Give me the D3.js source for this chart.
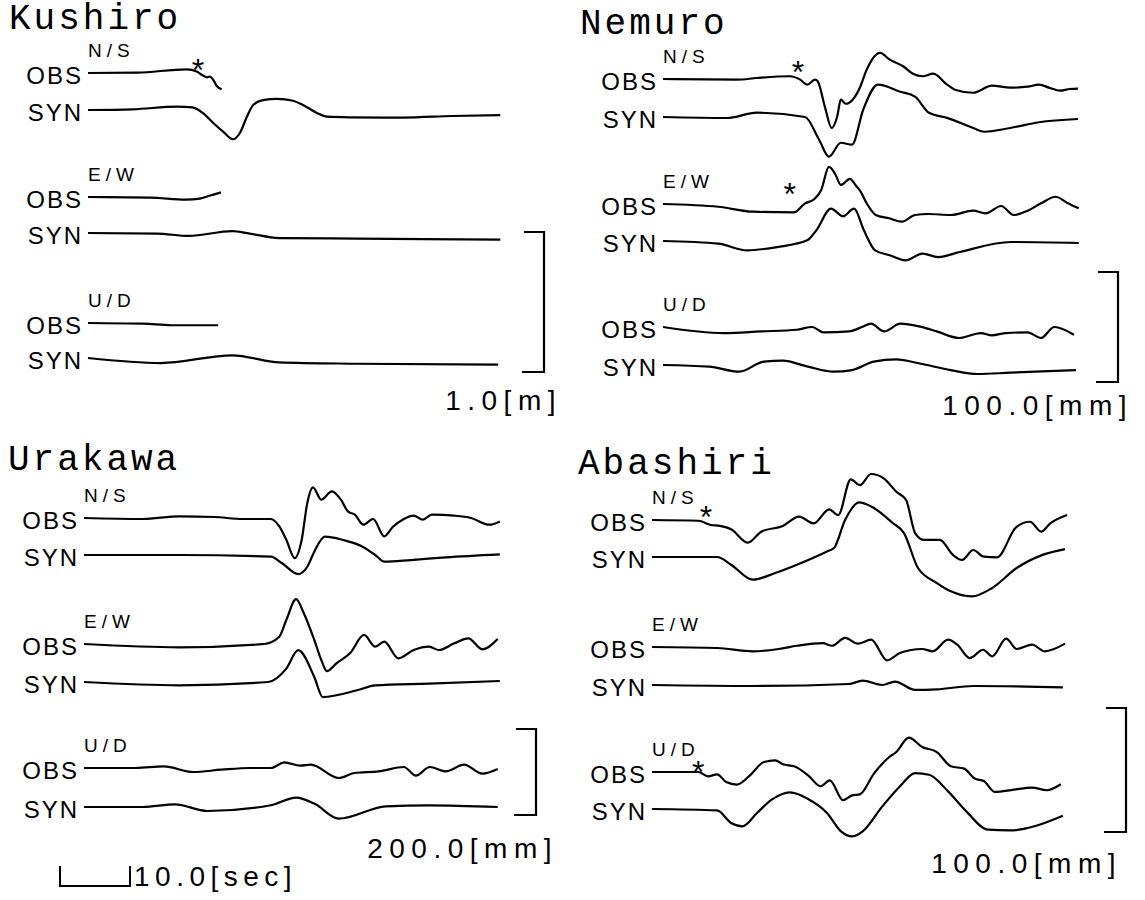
<!DOCTYPE html>
<html>
<head>
<meta charset="utf-8">
<script src="https://cdn.jsdelivr.net/npm/d3@7"></script>
<style>
body { margin: 0; background: #fff; }
</style>
</head>
<body>
<script>
// stations, components, scale bars
var stations    = ["Kushiro", "Nemuro", "Urakawa", "Abashiri"];
var components  = ["N/S", "E/W", "U/D"];
var traceNames  = ["OBS", "SYN"];
var scaleValues = [1.0, 100.0, 200.0, 100.0];
var scaleUnits  = ["m", "mm", "mm", "mm"];
var timeBarSec  = 10.0;

// waveforms: [time (s), amplitude (m for Kushiro, mm otherwise)]
var kushiroNsObs = [[0,0],[7,0.003],[14.1,0.026],[15.6,0.009],[16.3,-0.014],[17,-0.031],[17.4,-0.026],[17.9,-0.05],[18.4,-0.093],[19.1,-0.116]];
var kushiroNsSyn = [[0,0],[6.4,0.005],[12.7,0.024],[14.9,0.019],[16.4,-0.021],[17.9,-0.093],[19.3,-0.155],[20.7,-0.209],[21.7,-0.164],[22.7,-0.048],[23.6,0.036],[25,0.071],[27,0.079],[29.3,0.066],[30.7,0.036],[32.7,-0.021],[34.1,-0.048],[37.3,-0.052],[45,-0.054],[52,-0.043],[58.9,-0.036]];
var kushiroEwObs = [[0,0],[8.9,-0.004],[14,-0.019],[16,-0.011],[17.7,0.014],[19,0.033]];
var kushiroEwSyn = [[0,0],[9.9,-0.004],[14.4,-0.021],[20.6,0.014],[23.1,-0.004],[27.3,-0.036],[38.4,-0.04],[58.9,-0.047]];
var kushiroUdObs = [[0,0],[7.9,-0.005],[11.9,-0.016],[18.6,-0.016]];
var kushiroUdSyn = [[0,0],[10.4,-0.036],[20.6,0.019],[27.3,-0.031],[38.4,-0.041],[58.6,-0.048]];

var nemuroNsObs = [[0,0],[10.6,-0.6],[13.4,0.9],[18.1,2.5],[19.6,-0.6],[20.6,-5.2],[21.7,-0.6],[22.1,-2.1],[23.1,-24.6],[24.1,-44.6],[24.9,-33.7],[25.4,-18.8],[26.1,-22.5],[27.1,-18.8],[28.1,-8.2],[29.1,8.5],[31,23.7],[32.4,17.6],[34.3,11.6],[35.7,4.8],[37.1,2.5],[38.6,4.8],[40.6,-5.2],[41.7,-9.7],[44.3,-12.5],[47,-6.1],[49.6,-7.9],[52.1,-7],[53.7,-5.2],[55.3,-8.2],[56.7,-10.6],[58.1,-9.1],[59.3,-8.8]];
var nemuroNsSyn = [[0,0],[9.1,-0.9],[13.4,3.9],[20.3,0],[22.3,-20.7],[23.7,-36.1],[25.4,-23.4],[27,-25.2],[28.6,6.6],[30.7,29.4],[33.9,23],[36,18.5],[38,3.9],[40.7,-1],[44.3,-10],[45.9,-13.4],[49.6,-10],[53.7,-4.8],[59.3,-1.8]];
var nemuroEwObs = [[0,0],[7.9,-2.5],[12.9,-7],[18.7,-7.6],[20.3,0.6],[21.6,4.3],[22.6,12.7],[23.7,33.7],[24.6,27.3],[25.4,17.3],[26.7,22.8],[27.6,16.4],[28.1,12.7],[29.1,0.6],[30.4,-10],[32.3,-13],[34.1,-16.1],[36,-10],[37.9,-9.1],[41.1,-10],[44.3,-6.1],[46.1,-8.5],[48.3,-1.8],[50.1,-10],[52.1,-6.1],[54,0.6],[56.1,6.6],[57.7,1.2],[59.4,-3.9]];
var nemuroEwSyn = [[0,0],[7.9,-2.4],[12,-8.5],[16.3,-5.5],[20.6,0.6],[21.9,9.7],[24,29.5],[25.7,22.5],[27.3,29.5],[28.7,9.7],[30.3,-8.5],[32.4,-13],[34.6,-17.6],[37.1,-11.5],[39.3,-14.6],[42.4,-10],[49.7,-0.9],[59.4,-1.8]];
var nemuroUdObs = [[0,0],[8.7,-5.5],[14,-4],[19.1,-2.5],[21.3,0],[22.9,-4.9],[26.6,-4],[28.6,0.5],[29.7,3],[31.6,-4],[33.9,3],[36.6,0.5],[39.1,-4],[42.3,-10],[45.4,-5.5],[47,-7.6],[49,-5.5],[52.1,-4.9],[54,-10],[55.9,0],[58.7,-7]];
var nemuroUdSyn = [[0,0],[6.6,-1.5],[10.9,-6.1],[14.4,3],[17.1,3.9],[20.7,-1.5],[24.4,-6.1],[27,-4.6],[30.1,3],[33.3,5.2],[37,0.9],[41.1,-4.6],[44.9,-8.2],[49.6,-7],[59,-4.6]];

var urakawaNsObs = [[0,0],[8.4,-2.3],[13.6,3.7],[18.6,2.3],[22.7,-2.3],[26.7,-2.3],[27.9,-19.6],[28.9,-50.6],[30.1,-93.2],[31.1,-50.6],[31.9,35],[32.7,71.3],[33.9,42.6],[35.4,62],[36.7,42.6],[37.7,15.4],[38.7,7.7],[39.9,-15.6],[41.3,-2.3],[42.9,-42.9],[44.1,-21],[45.7,-2.3],[47.1,5.4],[48.4,-4],[49.7,7.7],[52.9,5.4],[55.3,0],[57.9,-15.6],[59.4,-7.9]];
var urakawaNsSyn = [[0,0],[13.6,0],[26.7,-4],[28.3,-19.3],[30.6,-44.3],[31.9,-27.3],[32.9,7.7],[34.4,42.6],[37,35],[39.6,21],[41.6,0],[42.9,-15.6],[46.7,-11.7],[51.7,-5.4],[59.4,1.6]];
var urakawaEwObs = [[0,0],[13.6,-7.7],[25.7,0],[27.9,17],[28.9,55.9],[30.3,104.2],[31.4,71.5],[32.9,9.3],[33.9,-37.3],[34.7,-62.9],[36.1,-44.3],[38,-21.7],[40,21],[41.6,-6.3],[42.9,5.4],[44.9,-33.3],[47.1,-14],[49.3,-6.3],[50.7,-14],[52.9,1.6],[54.9,13.3],[56.9,-12.3],[59.1,11.7]];
var urakawaEwSyn = [[0,0],[13.6,-7.7],[26.3,0],[28.9,31.2],[30.6,73.9],[32.9,11.7],[34.1,-35],[39,-19.3],[41.6,-7.7],[49.3,-3.7],[59.4,2.3]];
var urakawaUdObs = [[0,0],[7.4,0],[11.4,3.7],[15.6,-9.3],[19.6,-4],[23.7,0],[26.7,0],[28.6,13],[30.9,5.4],[32.4,7.7],[36.4,-23.3],[38.6,-11.7],[42.1,-7.9],[45.7,2.3],[47.4,-17.9],[49.4,2.3],[51.7,-7.9],[54.3,7.7],[56.9,-13.3],[59.1,-2.3]];
var urakawaUdSyn = [[0,0],[8.4,0],[13,6.3],[17.6,-9.3],[26.7,4],[30.3,21.9],[32.9,7.9],[36.4,-27],[43.1,1.6],[49.3,4],[59.1,0]];

var abashiriNsObs = [[0,0],[6.6,-0.6],[8.4,-4],[9.7,-4.8],[11.3,-7.5],[13.7,-18.3],[15.6,-9.4],[18.7,-4.8],[21,2.7],[23.1,-2.7],[25.3,8.6],[26.6,4],[28.4,32.8],[29.7,28.2],[31.3,37.1],[33.1,33.6],[34.9,22.8],[36.3,16.1],[37.6,-10.7],[38.9,-16.1],[41.1,-16.1],[43,-28.2],[44.3,-32.2],[45.9,-24.2],[47.4,-29.6],[49.3,-30.1],[52,-5.9],[54,-1.4],[55.6,-9.4],[56.9,-2.7],[59.3,4]];
var abashiriNsSyn = [[0,0],[9.3,0],[11.3,-6.2],[14.4,-18.3],[17.6,-12.9],[20.7,-6.2],[25,4.5],[26,7.3],[27.6,30.1],[29.6,44],[31.3,40.8],[34.4,27.4],[36,19.3],[38,-8.9],[40.7,-21],[42.7,-27.7],[45.7,-31.8],[48.6,-25],[52.1,-8.9],[55.9,1.9],[59,6.4]];
var abashiriEwObs = [[0,0],[9.3,-0.8],[14.4,-3.5],[18.1,-1.6],[20.7,1],[24.4,3.2],[25.7,1],[27.6,7.3],[29.4,2.7],[31.3,5.9],[33.6,-10.8],[35.4,-4.8],[38.6,-1.6],[40.1,-3.5],[42.3,5.9],[43.6,1.9],[45.4,-8.9],[47.3,-2.2],[48.6,-7.6],[50.6,6.7],[52.1,-1.6],[54.3,1.9],[56.1,-3.5],[59,2.7]];
var abashiriEwSyn = [[0,0],[14.4,-0.8],[28.1,0.8],[30.1,3.5],[32.9,0],[34.7,2.7],[37.6,-4],[40.7,-3.5],[45.9,-0.8],[58.7,-1.9]];
var abashiriUdObs = [[0,0],[6.6,0],[8,-3.5],[9.3,-1.9],[10.6,-8.1],[12.1,-10.2],[14,-2.7],[16,8.1],[17.6,9.4],[18.7,6.2],[20.3,4.6],[22.3,-2.7],[24.1,-11.5],[25.4,-6.7],[27.3,-22.8],[28.6,-18.8],[29.7,-18],[31.7,-1.3],[33.9,12.1],[34.9,16.1],[36.7,27.7],[38.6,20.2],[40.7,16.1],[42.7,4.6],[44.6,2.7],[46.1,-5.3],[47.4,-7.3],[49,-16.1],[51.7,-14.2],[54.3,-12.6],[56.4,-14.7],[58.4,-9.9]];
var abashiriUdSyn = [[0,0],[9.3,-1.1],[11.3,-11.3],[12.9,-14],[15,-3.2],[17.1,7.5],[19.7,13.4],[22.3,8.1],[25,-3.2],[27,-18.1],[28.6,-22.1],[30.1,-18.1],[32.9,2.1],[35.4,18.2],[37.6,29],[39.6,27.6],[42.3,14.2],[44.9,-1.9],[48,-16.7],[51.1,-17.2],[58.7,-5.4]];

// onset marks (*) on the observed traces: [time, amplitude] or null, per component
var kushiroPicks  = [[15.7, 0.069], null, null];
var nemuroPicks   = [[19.3, 13], [18.1, 15.5], null];
var urakawaPicks  = [null, null, null];
var abashiriPicks = [[7.7, 8.1], null, [6.6, 5.4]];

var traces = {
    Kushiro:  [[kushiroNsObs, kushiroNsSyn], [kushiroEwObs, kushiroEwSyn], [kushiroUdObs, kushiroUdSyn]],
    Nemuro:   [[nemuroNsObs, nemuroNsSyn], [nemuroEwObs, nemuroEwSyn], [nemuroUdObs, nemuroUdSyn]],
    Urakawa:  [[urakawaNsObs, urakawaNsSyn], [urakawaEwObs, urakawaEwSyn], [urakawaUdObs, urakawaUdSyn]],
    Abashiri: [[abashiriNsObs, abashiriNsSyn], [abashiriEwObs, abashiriEwSyn], [abashiriUdObs, abashiriUdSyn]]
};
var picks = {Kushiro: kushiroPicks, Nemuro: nemuroPicks, Urakawa: urakawaPicks, Abashiri: abashiriPicks};

// page layout (pixels)
var layout = {
    Kushiro:  {x0: 88,  titleX: 9,   titleY: 29,  rows: [73, 110, 197, 233, 323, 358], bracketX: 544,  bracketTop: 232, bracketPx: 140, labelX: 562,  labelY: 410},
    Nemuro:   {x0: 663, titleX: 580, titleY: 34,  rows: [79, 117, 204, 241, 327, 365], bracketX: 1118, bracketTop: 272, bracketPx: 110, labelX: 1133, labelY: 415},
    Urakawa:  {x0: 84,  titleX: 8,   titleY: 470, rows: [518, 555, 644, 682, 768, 807], bracketX: 536,  bracketTop: 729, bracketPx: 86,  labelX: 558,  labelY: 858},
    Abashiri: {x0: 652, titleX: 578, titleY: 474, rows: [520, 557, 647, 685, 772, 809], bracketX: 1126, bracketTop: 708, bracketPx: 124, labelX: 1122, labelY: 873}
};

var W = 1145, H = 900;
var svg = d3.select("body").append("svg")
    .attr("width", W)
    .attr("height", H)
    .style("background", "#fff");

// 10 s == 70 px
var xScale = d3.scaleLinear().domain([0, timeBarSec]).range([0, 70]);

var sansFont = "'Liberation Sans', Arial, Helvetica, sans-serif";
var monoFont = "'Courier New', 'Liberation Mono', monospace";

stations.forEach(function(st, s)
{
    var L = layout[st];
    var yScale = d3.scaleLinear().domain([0, scaleValues[s]]).range([0, -L.bracketPx]);
    var g = svg.append("g");

    // station name
    g.append("text")
        .attr("x", L.titleX)
        .attr("y", L.titleY)
        .style("font-family", monoFont)
        .style("font-size", "36px")
        .style("letter-spacing", "3px")
        .text(st);

    var line = d3.line()
        .x(function(d) { return L.x0 + xScale(d[0]); })
        .y(function(d) { return yScale(d[1]); })
        .curve(d3.curveMonotoneX);

    components.forEach(function(comp, c)
    {
        // component label
        g.append("text")
            .attr("x", L.x0)
            .attr("y", L.rows[c*2] - 16)
            .style("font-family", sansFont)
            .style("font-size", "19px")
            .style("letter-spacing", "5px")
            .text(comp);

        traceNames.forEach(function(nm, k)
        {
            var y0 = L.rows[c*2 + k];
            var tg = g.append("g").attr("transform", "translate(0," + y0 + ")");

            tg.append("text")
                .attr("x", L.x0 - 5)
                .attr("y", 11)
                .attr("text-anchor", "end")
                .style("font-family", sansFont)
                .style("font-size", "24px")
                .style("letter-spacing", "2px")
                .text(nm);

            tg.append("path")
                .datum(traces[st][c][k])
                .attr("d", line)
                .attr("fill", "none")
                .attr("stroke", "#000")
                .attr("stroke-width", 2.2)
                .attr("stroke-linejoin", "round");

            var p = picks[st][c];
            if (k == 0 && p)
            {
                tg.append("text")
                    .attr("x", L.x0 + xScale(p[0]))
                    .attr("y", yScale(p[1]) + 18)
                    .attr("text-anchor", "middle")
                    .style("font-family", sansFont)
                    .style("font-size", "32px")
                    .text("*");
            }
        });
    });

    // amplitude scale bracket
    var bTop = L.bracketTop;
    var bBot = L.bracketTop + (yScale(0) - yScale(scaleValues[s]));
    g.append("path")
        .attr("d", "M" + (L.bracketX - 20) + "," + bTop + "H" + L.bracketX + "V" + bBot + "H" + (L.bracketX - 22))
        .attr("fill", "none")
        .attr("stroke", "#000")
        .attr("stroke-width", 2.2);

    g.append("text")
        .attr("x", L.labelX)
        .attr("y", L.labelY)
        .attr("text-anchor", "end")
        .style("font-family", sansFont)
        .style("font-size", "28px")
        .style("letter-spacing", "6.5px")
        .text(scaleValues[s].toFixed(1) + "[" + scaleUnits[s] + "]");
});

// time scale bar
var tbX = 60, tbY = 886;
svg.append("path")
    .attr("d", "M" + tbX + "," + (tbY - 20) + "V" + tbY + "H" + (tbX + xScale(timeBarSec)) + "V" + (tbY - 20))
    .attr("fill", "none")
    .attr("stroke", "#000")
    .attr("stroke-width", 2);

svg.append("text")
    .attr("x", tbX + xScale(timeBarSec) + 4)
    .attr("y", tbY)
    .style("font-family", sansFont)
    .style("font-size", "28px")
    .style("letter-spacing", "5.5px")
    .text(timeBarSec.toFixed(1) + "[sec]");
</script>
</body>
</html>
